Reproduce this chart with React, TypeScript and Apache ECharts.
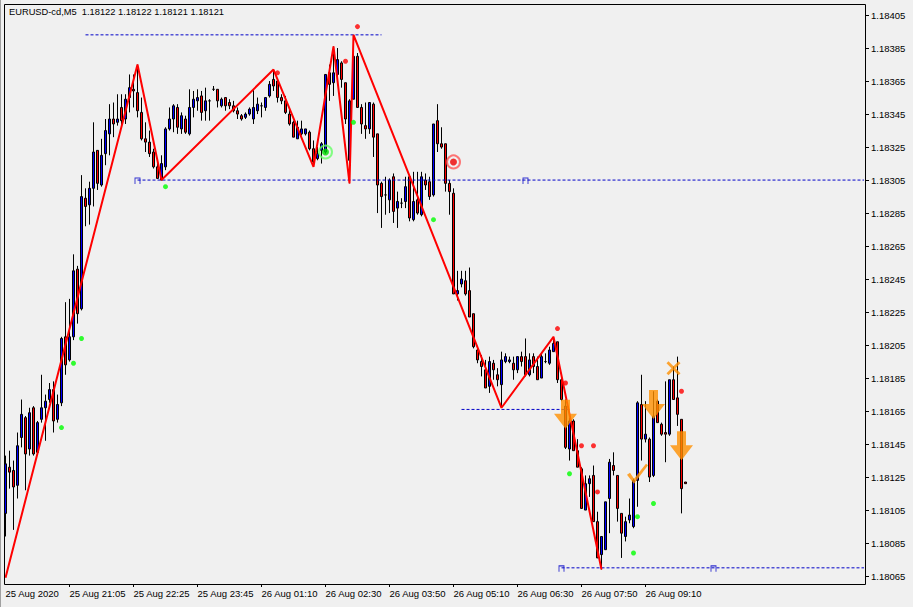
import React, { useEffect, useRef } from "react";
import * as echarts from "echarts";

const FONT = '"Liberation Sans", Arial, sans-serif';

const chartTitle = "EURUSD-cd,M5  1.18122 1.18122 1.18121 1.18121";
const lastPrice = 1.18121;

const tickLabels = [
  "25 Aug 2020", "25 Aug 21:05", "25 Aug 22:25", "25 Aug 23:45", "26 Aug 01:10",
  "26 Aug 02:30", "26 Aug 03:50", "26 Aug 05:10", "26 Aug 06:30", "26 Aug 07:50", "26 Aug 09:10",
];

const priceTicks = [
  1.18065, 1.18085, 1.18105, 1.18125, 1.18145, 1.18165, 1.18185, 1.18205, 1.18225,
  1.18245, 1.18265, 1.18285, 1.18305, 1.18325, 1.18345, 1.18365, 1.18385, 1.18405,
];

// [open, high, low, close]
const ohlc: number[][] = [
  [1.18103,1.18138,1.18089,1.18133],[1.18131,1.18141,1.18118,1.18128],[1.18129,1.18135,1.18093,1.18119],[1.18120,1.18152,1.18112,1.18144],
  [1.18149,1.18172,1.18143,1.18163],[1.18161,1.18162,1.18117,1.18139],[1.18142,1.18167,1.18138,1.18164],[1.18167,1.18168,1.18138,1.18139],
  [1.18140,1.18159,1.18139,1.18158],[1.18160,1.18187,1.18158,1.18167],[1.18167,1.18175,1.18147,1.18171],[1.18172,1.18182,1.18170,1.18178],
  [1.18178,1.18183,1.18152,1.18159],[1.18160,1.18175,1.18158,1.18169],[1.18170,1.18210,1.18168,1.18209],[1.18210,1.18231,1.18187,1.18193],
  [1.18196,1.18233,1.18195,1.18210],[1.18210,1.18260,1.18208,1.18250],[1.18251,1.18253,1.18218,1.18224],[1.18227,1.18308,1.18226,1.18295],
  [1.18294,1.18300,1.18277,1.18289],[1.18290,1.18304,1.18278,1.18300],[1.18300,1.18340,1.18289,1.18322],[1.18323,1.18323,1.18299,1.18303],
  [1.18302,1.18330,1.18301,1.18320],[1.18321,1.18342,1.18314,1.18335],[1.18333,1.18351,1.18320,1.18342],[1.18342,1.18352,1.18331,1.18339],
  [1.18340,1.18357,1.18338,1.18342],[1.18349,1.18357,1.18338,1.18341],[1.18342,1.18357,1.18339,1.18354],[1.18355,1.18369,1.18346,1.18361],
  [1.18360,1.18369,1.18349,1.18359],[1.18358,1.18375,1.18343,1.18347],[1.18346,1.18355,1.18329,1.18330],[1.18330,1.18340,1.18322,1.18328],
  [1.18328,1.18335,1.18319,1.18321],[1.18322,1.18324,1.18312,1.18313],[1.18313,1.18318,1.18306,1.18306],[1.18305,1.18320,1.18305,1.18315],
  [1.18313,1.18337,1.18311,1.18336],[1.18336,1.18349,1.18335,1.18342],[1.18342,1.18351,1.18334,1.18350],[1.18349,1.18351,1.18333,1.18337],
  [1.18336,1.18346,1.18333,1.18344],[1.18342,1.18344,1.18333,1.18334],[1.18333,1.18360,1.18332,1.18349],[1.18349,1.18359,1.18343,1.18354],
  [1.18353,1.18360,1.18347,1.18355],[1.18356,1.18359,1.18341,1.18346],[1.18347,1.18361,1.18341,1.18353],[1.18353,1.18354,1.18341,1.18353],
  [1.18360,1.18362,1.18359,1.18360],[1.18360,1.18360,1.18349,1.18353],[1.18350,1.18355,1.18349,1.18354],[1.18355,1.18355,1.18347,1.18350],
  [1.18352,1.18354,1.18348,1.18350],[1.18350,1.18353,1.18346,1.18347],[1.18347,1.18349,1.18342,1.18345],[1.18344,1.18345,1.18341,1.18342],
  [1.18343,1.18346,1.18342,1.18345],[1.18345,1.18349,1.18344,1.18348],[1.18342,1.18360,1.18339,1.18349],[1.18347,1.18355,1.18345,1.18351],
  [1.18350,1.18352,1.18343,1.18350],[1.18349,1.18355,1.18347,1.18355],[1.18356,1.18365,1.18355,1.18363],[1.18366,1.18372,1.18359,1.18362],
  [1.18365,1.18366,1.18352,1.18355],[1.18355,1.18357,1.18351,1.18353],[1.18353,1.18356,1.18345,1.18346],[1.18345,1.18349,1.18338,1.18339],
  [1.18340,1.18341,1.18331,1.18331],[1.18330,1.18341,1.18330,1.18337],[1.18333,1.18341,1.18332,1.18336],[1.18333,1.18336,1.18332,1.18336],
  [1.18334,1.18335,1.18323,1.18324],[1.18324,1.18329,1.18313,1.18316],[1.18318,1.18325,1.18317,1.18321],[1.18323,1.18328,1.18315,1.18327],
  [1.18322,1.18369,1.18321,1.18369],[1.18370,1.18375,1.18353,1.18363],[1.18364,1.18386,1.18356,1.18370],[1.18369,1.18385,1.18366,1.18378],
  [1.18376,1.18377,1.18361,1.18366],[1.18364,1.18364,1.18339,1.18342],[1.18317,1.18354,1.18303,1.18353],[1.18354,1.18393,1.18354,1.18380],
  [1.18380,1.18382,1.18349,1.18349],[1.18349,1.18351,1.18333,1.18339],[1.18338,1.18352,1.18330,1.18336],[1.18336,1.18352,1.18333,1.18352],
  [1.18351,1.18352,1.18319,1.18331],[1.18333,1.18333,1.18285,1.18302],[1.18303,1.18304,1.18276,1.18295],[1.18296,1.18307,1.18284,1.18296],
  [1.18293,1.18306,1.18285,1.18305],[1.18307,1.18309,1.18279,1.18286],[1.18288,1.18298,1.18276,1.18292],[1.18291,1.18294,1.18288,1.18291],
  [1.18292,1.18307,1.18288,1.18301],[1.18307,1.18307,1.18280,1.18282],[1.18281,1.18310,1.18280,1.18292],[1.18293,1.18310,1.18284,1.18285],
  [1.18284,1.18310,1.18283,1.18307],[1.18305,1.18309,1.18299,1.18302],[1.18304,1.18307,1.18293,1.18295],[1.18296,1.18339,1.18295,1.18339],
  [1.18341,1.18351,1.18322,1.18327],[1.18327,1.18337,1.18324,1.18325],[1.18327,1.18327,1.18298,1.18303],[1.18303,1.18305,1.18284,1.18298],
  [1.18297,1.18300,1.18236,1.18236],[1.18236,1.18250,1.18232,1.18238],[1.18242,1.18250,1.18240,1.18245],[1.18244,1.18250,1.18235,1.18236],
  [1.18238,1.18252,1.18222,1.18222],[1.18224,1.18224,1.18203,1.18204],[1.18202,1.18203,1.18194,1.18196],[1.18195,1.18199,1.18186,1.18192],
  [1.18190,1.18196,1.18179,1.18179],[1.18180,1.18198,1.18176,1.18195],[1.18194,1.18196,1.18184,1.18190],[1.18187,1.18191,1.18180,1.18184],
  [1.18181,1.18201,1.18167,1.18196],[1.18195,1.18200,1.18194,1.18198],[1.18195,1.18198,1.18194,1.18196],[1.18194,1.18198,1.18184,1.18190],
  [1.18190,1.18198,1.18188,1.18198],[1.18198,1.18201,1.18192,1.18195],[1.18198,1.18209,1.18186,1.18187],[1.18187,1.18200,1.18186,1.18196],
  [1.18198,1.18200,1.18188,1.18192],[1.18192,1.18198,1.18184,1.18184],[1.18185,1.18200,1.18185,1.18198],[1.18195,1.18200,1.18194,1.18195],
  [1.18194,1.18204,1.18193,1.18202],[1.18201,1.18210,1.18201,1.18206],[1.18207,1.18207,1.18182,1.18184],[1.18184,1.18185,1.18171,1.18172],
  [1.18168,1.18172,1.18142,1.18143],[1.18142,1.18161,1.18135,1.18159],[1.18159,1.18160,1.18141,1.18141],[1.18141,1.18148,1.18131,1.18131],
  [1.18130,1.18131,1.18106,1.18106],[1.18105,1.18126,1.18105,1.18121],[1.18121,1.18126,1.18113,1.18124],[1.18126,1.18132,1.18098,1.18098],
  [1.18098,1.18104,1.18076,1.18076],[1.18078,1.18089,1.18069,1.18089],[1.18081,1.18110,1.18081,1.18110],[1.18112,1.18136,1.18091,1.18134],
  [1.18132,1.18140,1.18126,1.18129],[1.18126,1.18126,1.18098,1.18106],[1.18103,1.18103,1.18076,1.18091],[1.18089,1.18101,1.18086,1.18098],
  [1.18099,1.18112,1.18097,1.18102],[1.18095,1.18124,1.18094,1.18123],[1.18123,1.18171,1.18107,1.18170],[1.18169,1.18187,1.18135,1.18148],
  [1.18148,1.18171,1.18146,1.18151],[1.18148,1.18149,1.18122,1.18125],[1.18126,1.18177,1.18125,1.18162],[1.18171,1.18172,1.18158,1.18158],
  [1.18157,1.18158,1.18150,1.18151],[1.18152,1.18183,1.18134,1.18151],[1.18151,1.18184,1.18150,1.18184],[1.18184,1.18192,1.18172,1.18172],
  [1.18173,1.18198,1.18156,1.18163],[1.18160,1.18160,1.18103,1.18118],[1.18122,1.18122,1.18121,1.18121],
];

// [bar index, price]
const zigzag = [
  [0, 1.18064], [33, 1.18375], [39, 1.18305], [67, 1.18372], [77, 1.18313], [82, 1.18386],
  [86, 1.18303], [87, 1.18393], [124, 1.18167], [137, 1.1821], [149, 1.18069],
];
const greenDots = [
  [14, 1.18155], [17, 1.18194], [19, 1.18209], [40, 1.18301], [87, 1.1834], [107, 1.18281],
  [141, 1.18127], [157, 1.18079], [158, 1.18101], [162, 1.18109],
];
const redDots = [
  [68, 1.1837], [85, 1.18377], [88, 1.18398], [138, 1.18215], [140, 1.18182], [144, 1.18144],
  [147, 1.18144], [148, 1.18116], [169, 1.18177],
];
const greenTargets = [[80, 1.18322]];
const redTargets = [[112, 1.18316]];
const downArrows = [[140, 1.18163], [162, 1.18169], [169, 1.18144]];
const checkMarks = [[158, 1.18127]];
const crossMarks = [[167, 1.18191]];
// [from bar, to bar, price]
const levelLines = [
  [20, 94, 1.18393],
  [33, 215, 1.18305],
  [114, 141, 1.18166],
  [139, 215, 1.1807],
];
const levelTags = [[33, 1.18305], [130, 1.18305], [139, 1.1807], [177, 1.1807]];

const SLOTS = 215;

function buildCategories(): string[] {
  const out: string[] = [];
  let m = 19 * 60 + 45;
  for (let i = 0; i < SLOTS; i++) {
    if (m === 24 * 60) m += 5;
    const day = 25 + Math.floor(m / 1440);
    const mm = m % 1440;
    const hh = String(Math.floor(mm / 60)).padStart(2, "0");
    const mi = String(mm % 60).padStart(2, "0");
    out.push(`${day} Aug ${hh}:${mi}`);
    m += 5;
  }
  return out;
}

const ARROW = "path://M7,0 L16,0 L16,14 L23,14 L11.5,29 L0,14 L7,14 Z";
const CHECK = "path://M0,11 L3,9 L7,15 L19,0 L21,1.5 L7,20 Z";
const CROSS = "path://M0,2 L2,0 L7,5 L12,0 L14,2 L9,7 L14,12 L12,14 L7,9 L2,14 L0,12 L5,7 Z";
const TAG = "path://M0,6 L0,0 L5,0 L5,6";

export default function App() {
  const ref = useRef<HTMLDivElement>(null);
  useEffect(() => {
    if (!ref.current) return;
    const chart = echarts.init(ref.current, undefined, { renderer: "svg" });
    const categories = buildCategories();
    const levelSeries = levelLines.map(([a, b, p]) => ({
      type: "line",
      data: [[a, p], [b, p]],
      showSymbol: false,
      silent: true,
      z: 3,
      lineStyle: { color: "#0000c8", width: 1, type: [3, 2] },
    }));
    chart.setOption({
      animation: false,
      backgroundColor: "#f0f0f0",
      textStyle: { fontFamily: FONT },
      title: {
        text: chartTitle,
        left: 9,
        top: 7,
        padding: 0,
        textStyle: { fontSize: 9.3, fontWeight: "normal", color: "#000", fontFamily: FONT },
      },
      graphic: [
        {
          type: "rect",
          silent: true,
          z: 100,
          shape: { x: 4.5, y: 4.5, width: 861, height: 580 },
          style: { fill: "none", stroke: "#000", lineWidth: 1 },
        },
        {
          type: "line",
          silent: true,
          shape: { x1: 0.5, y1: 0, x2: 0.5, y2: 607 },
          style: { stroke: "#a0a0a0", lineWidth: 1 },
        },
      ],
      grid: {
        left: 3.5, top: 4, width: 860, height: 580,
        show: false,
      },
      xAxis: {
        type: "category",
        data: categories,
        boundaryGap: true,
        axisLine: { show: false },
        axisTick: {
          show: true,
          alignWithLabel: true,
          length: 3,
          lineStyle: { color: "#000" },
          interval: (idx: number) => idx % 16 === 0 && idx / 16 < tickLabels.length && idx > 0,
        },
        axisLabel: {
          interval: (idx: number) => idx % 16 === 0 && idx / 16 < tickLabels.length,
          formatter: (_v: string, idx: number) => tickLabels[idx / 16] ?? "",
          align: "left",
          margin: 4,
          fontSize: 9.5,
          color: "#000",
          fontFamily: FONT,
        },
        splitLine: { show: false },
      },
      yAxis: {
        type: "value",
        position: "right",
        offset: 1.5,
        min: 1.180602,
        max: 1.184117,
        scale: true,
        axisLine: { show: false },
        axisTick: { show: true, length: 4, lineStyle: { color: "#000" }, customValues: priceTicks },
        axisLabel: {
          customValues: priceTicks,
          formatter: (v: number) => v.toFixed(5),
          margin: 6,
          fontSize: 9.5,
          color: "#000",
          fontFamily: FONT,
        },
        splitLine: { show: false },
      },
      series: [
        {
          type: "candlestick",
          data: ohlc.map(([o, h, l, c]) => [o, c, l, h]),
          barWidth: 2,
          z: 2,
          itemStyle: {
            color: "#0000ff", color0: "#ff0000",
            borderColor: "#000", borderColor0: "#000", borderColorDoji: "#000", borderWidth: 1,
          },
          markLine: {
            silent: true,
            symbol: ["none", "none"],
            lineStyle: { opacity: 0 },
            data: [{ yAxis: lastPrice }],
            label: {
              show: true,
              position: "end",
              distance: 3,
              formatter: lastPrice.toFixed(5),
              color: "#fff",
              backgroundColor: "#000",
              padding: [1, 4, 0, 4],
              fontSize: 9.5,
              fontFamily: FONT,
            },
          },
        },
        ...levelSeries,
        {
          type: "scatter",
          data: levelTags,
          symbol: TAG,
          symbolSize: [5, 6],
          symbolOffset: [0, 1],
          z: 3,
          itemStyle: { color: "rgba(0,0,0,0)", borderColor: "#0000c8", borderWidth: 1 },
        },
        {
          type: "line",
          data: zigzag,
          showSymbol: false,
          z: 5,
          lineStyle: { color: "#ff0000", width: 2 },
        },
        {
          type: "scatter",
          data: greenDots,
          symbolSize: 5,
          z: 6,
          itemStyle: { color: "#00ff00" },
        },
        {
          type: "scatter",
          data: redDots,
          symbolSize: 5,
          z: 6,
          itemStyle: { color: "#ff0000" },
        },
        {
          type: "scatter",
          data: greenTargets,
          symbolSize: 13,
          z: 6,
          itemStyle: { color: "rgba(0,0,0,0)", borderColor: "#66ff66", borderWidth: 2 },
        },
        {
          type: "scatter",
          data: greenTargets,
          symbolSize: 7,
          z: 7,
          itemStyle: { color: "#00dd00" },
        },
        {
          type: "scatter",
          data: redTargets,
          symbolSize: 13,
          z: 6,
          itemStyle: { color: "rgba(0,0,0,0)", borderColor: "#ff5555", borderWidth: 2 },
        },
        {
          type: "scatter",
          data: redTargets,
          symbolSize: 7,
          z: 7,
          itemStyle: { color: "#ee0000" },
        },
        {
          type: "scatter",
          data: downArrows,
          symbol: ARROW,
          symbolSize: [23, 29],
          z: 8,
          itemStyle: { color: "#ff9000" },
        },
        {
          type: "scatter",
          data: checkMarks,
          symbol: CHECK,
          symbolSize: [21, 20],
          z: 8,
          itemStyle: { color: "#ff9000" },
        },
        {
          type: "scatter",
          data: crossMarks,
          symbol: CROSS,
          symbolSize: [14, 14],
          z: 8,
          itemStyle: { color: "#ff9000" },
        },
      ],
    });
    return () => chart.dispose();
  }, []);
  return (
    <div
      ref={ref}
      style={{ position: "fixed", left: 0, top: 0, width: 913, height: 607, background: "#f0f0f0" }}
    />
  );
}
